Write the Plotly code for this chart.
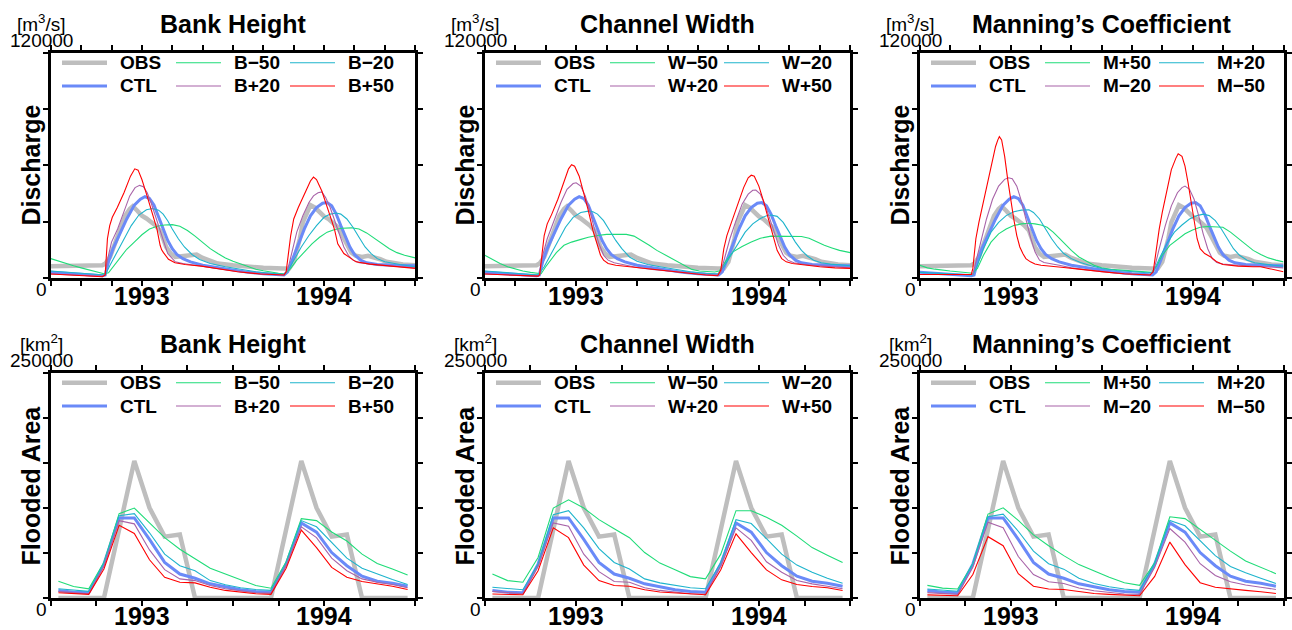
import plotly.graph_objects as go

# ======================= DATA =======================
# Top row: daily discharge [m3/s] read as (month since 1993-01-01, value) pairs
Q_OBS = [(0, 6300), (1, 6300), (2, 6500), (3.4, 6800), (3.6, 7700), (3.9, 11200), (4.1, 15600), (4.3, 20000),
         (4.6, 26100), (4.9, 33100), (5.2, 36700), (5.4, 38100), (5.7, 35800), (6.0, 33100), (6.3, 31700),
         (6.6, 30000), (6.9, 27900), (7.2, 25300), (7.4, 20900), (7.6, 16500), (7.9, 13000), (8.2, 11200),
         (8.6, 11600), (9.0, 12100), (9.3, 12600), (9.6, 12500), (10.0, 10700), (10.5, 8900), (11, 7700),
         (12, 6800), (13, 6000), (14, 5400), (15.3, 5100), (15.7, 5100), (16.0, 8600), (16.2, 13900),
         (16.4, 20900), (16.6, 29600), (16.9, 35800), (17.1, 38800), (17.4, 37500), (17.7, 34900),
         (18.0, 32800), (18.3, 31400), (18.6, 29300), (18.9, 27000), (19.2, 22600), (19.5, 17400),
         (19.8, 13500), (20.1, 11800), (20.5, 11200), (20.9, 11800), (21.3, 11200), (21.7, 10000),
         (22.1, 8600), (22.6, 7700), (23.2, 7200), (24, 6800)]
Q_CTL = [(0, 3000), (3.4, 1200), (3.58, 1600), (3.8, 8600), (4.1, 15600), (4.5, 22600), (5.0, 31400),
         (5.5, 38800), (5.9, 41900), (6.2, 43300), (6.5, 42300), (6.8, 38800), (7.1, 32300), (7.4, 26100),
         (7.7, 20000), (8.0, 15600), (8.3, 12500), (8.7, 10300), (9.2, 8600), (10, 6800), (11, 5400),
         (12, 4200), (13, 3000), (14, 2300), (15.36, 1600), (15.6, 3300), (15.9, 9500), (16.3, 18200),
         (16.7, 26100), (17.1, 33100), (17.5, 37500), (17.9, 39800), (18.2, 40200), (18.5, 38400),
         (18.8, 34000), (19.1, 27900), (19.4, 21700), (19.7, 16500), (20.0, 12500), (20.4, 9500),
         (20.8, 8100), (21.5, 7200), (22.5, 6800), (23.3, 6800), (24, 6500)]

Q_B_M50 = [(0, 10300), (0.5, 8900), (1, 7700), (1.5, 6500), (2, 5400), (2.5, 4400), (3, 3300), (3.5, 2300),
           (3.8, 2800), (4.2, 6800), (4.6, 11200), (5.0, 15300), (5.5, 19100), (6.0, 23000), (6.5, 26100),
           (7.0, 27500), (7.5, 28200), (8.0, 28400), (8.5, 27500), (9.0, 25300), (9.5, 22300), (10.0, 18800),
           (10.5, 15600), (11.0, 13000), (11.5, 10700), (12.0, 8900), (12.5, 7400), (13.0, 6000), (13.5, 4700),
           (14.0, 3900), (14.5, 3000), (15.0, 2500), (15.4, 2100), (15.8, 5100), (16.2, 9500), (16.7, 13900),
           (17.2, 18200), (17.7, 21700), (18.2, 24400), (18.7, 25800), (19.2, 26500), (19.8, 26700),
           (20.3, 26100), (20.8, 24000), (21.3, 21200), (21.8, 18200), (22.3, 15600), (22.8, 13500),
           (23.3, 12100), (24, 10700)]
Q_B_M20 = [(0, 3700), (3.4, 1600), (3.58, 1600), (3.9, 6800), (4.3, 13000), (4.8, 20900), (5.3, 27900),
           (5.8, 33500), (6.3, 36300), (6.7, 37000), (7.1, 36100), (7.4, 34000), (7.7, 30500), (8.0, 26100),
           (8.4, 20900), (8.8, 16500), (9.3, 12500), (9.8, 9800), (10.5, 7700), (11.5, 6000), (12.5, 4600),
           (13.5, 3300), (14.5, 2500), (15.36, 1900), (15.7, 5100), (16.0, 9500), (16.5, 16500), (17.0, 22600),
           (17.5, 27900), (18.0, 32300), (18.4, 34000), (18.8, 34600), (19.1, 34000), (19.5, 31400),
           (19.9, 27000), (20.3, 21700), (20.7, 16500), (21.1, 13000), (21.5, 10300), (22.0, 8600),
           (22.5, 7700), (23.0, 7200), (24, 6000)]
Q_B_P20 = [(0, 2100), (3.4, 1000), (3.58, 1600), (3.75, 10300), (4.0, 19100), (4.4, 26100), (4.8, 34900),
           (5.2, 43700), (5.55, 48100), (5.85, 49300), (6.1, 48600), (6.35, 45400), (6.6, 40200), (6.9, 32300),
           (7.2, 24400), (7.45, 19100), (7.7, 13000), (7.9, 11200), (8.2, 8600), (8.7, 7700), (9.5, 6800),
           (10.5, 5400), (11.5, 4200), (12.5, 3300), (14, 2100), (15.36, 1600), (15.6, 4200), (15.9, 13900),
           (16.2, 24400), (16.6, 33100), (17.0, 40200), (17.3, 43700), (17.6, 45400), (17.85, 45800),
           (18.1, 42800), (18.4, 37500), (18.7, 30500), (19.0, 22600), (19.3, 16500), (19.6, 12100),
           (19.9, 9500), (20.3, 8200), (21, 7500), (22, 6800), (23, 6000), (24, 5400)]
Q_B_P50 = [(0, 2100), (3.4, 700), (3.58, 1600), (3.73, 20900), (3.88, 27900), (4.05, 32300), (4.38, 37500),
           (4.82, 45400), (5.25, 54200), (5.53, 58100), (5.75, 57400), (6.0, 52400), (6.34, 43700),
           (6.66, 34900), (6.99, 26100), (7.2, 17400), (7.3, 15000), (7.42, 13500), (7.75, 10000),
           (8.18, 8100), (8.84, 7200), (9.92, 6300), (11.0, 5100), (12.3, 3300), (13.8, 2100), (15.36, 1600),
           (15.5, 3300), (15.8, 22600), (16.0, 31400), (16.3, 37500), (16.8, 46300), (17.1, 51600),
           (17.3, 53700), (17.5, 52400), (17.85, 46300), (18.2, 38400), (18.5, 30500), (18.7, 25300),
           (18.9, 18200), (19.3, 13000), (19.6, 11200), (20.1, 8600), (21.0, 7400), (22.1, 6500),
           (23.2, 5400), (24, 5100)]

Q_W_M50 = [(0, 12100), (0.5, 9800), (1, 7700), (1.5, 6000), (2, 4700), (2.5, 3700), (3, 3000), (3.5, 2500),
           (3.7, 2300), (4.0, 6000), (4.3, 9500), (4.7, 13500), (5.2, 17400), (5.7, 19100), (6.2, 20300),
           (6.8, 21700), (7.4, 22600), (8.0, 23200), (8.6, 23300), (9.3, 23200), (9.8, 22300), (10.3, 20000),
           (10.8, 17400), (11.3, 14700), (11.8, 12500), (12.3, 10300), (12.8, 7700), (13.2, 6000),
           (13.6, 4600), (14.1, 3700), (14.6, 3300), (15.1, 3200), (15.4, 3700), (15.8, 8600), (16.3, 13900),
           (16.9, 16800), (17.5, 19100), (18.1, 21200), (18.8, 22300), (19.5, 22300), (20.2, 22300),
           (20.8, 22100), (21.3, 21200), (21.8, 19100), (22.3, 17400), (22.8, 16000), (23.3, 14700),
           (24, 13500)]
Q_W_M20 = [(0, 3700), (3.5, 1600), (3.9, 6000), (4.3, 12100), (4.8, 20000), (5.3, 27000), (5.8, 32300),
           (6.3, 34900), (6.8, 35600), (7.1, 35300), (7.4, 34000), (7.8, 30500), (8.2, 25300), (8.6, 20000),
           (9.0, 15600), (9.5, 11200), (10.0, 8900), (10.7, 7200), (11.5, 6000), (12.5, 4600), (13.5, 3300),
           (14.5, 2500), (15.3, 2100), (15.7, 6000), (16.1, 11200), (16.6, 18200), (17.1, 24400),
           (17.6, 28800), (18.1, 31700), (18.5, 33100), (18.8, 33500), (19.2, 32800), (19.6, 29600),
           (20.0, 24400), (20.4, 19100), (20.8, 14700), (21.2, 11600), (21.6, 9500), (22.1, 8100),
           (22.7, 7400), (23.3, 6800), (24, 6500)]
Q_W_P20 = [(0, 2100), (3.5, 1000), (3.6, 1500), (3.8, 12100), (4.1, 20900), (4.5, 29600), (5.0, 40200),
           (5.4, 47200), (5.8, 50300), (6.0, 50700), (6.3, 48900), (6.6, 43700), (6.9, 35800), (7.2, 26100),
           (7.5, 18200), (7.8, 12100), (8.1, 9500), (8.5, 8100), (9.2, 6800), (10, 5600), (11, 4600),
           (12, 3700), (13, 2800), (14, 2100), (15.3, 1600), (15.5, 3000), (15.8, 12100), (16.1, 20900),
           (16.5, 30500), (16.9, 39300), (17.3, 44600), (17.6, 46700), (17.8, 46800), (18.1, 44600),
           (18.4, 39300), (18.7, 32300), (19.0, 24400), (19.3, 17400), (19.6, 12100), (19.9, 9500),
           (20.3, 8100), (21, 7200), (22, 6500), (23, 6000), (24, 5400)]
Q_W_P50 = [(0, 2100), (3.5, 1000), (3.6, 1600), (3.75, 13900), (3.9, 22600), (4.1, 28800), (4.4, 34000),
           (4.8, 41900), (5.2, 51600), (5.5, 58100), (5.7, 60300), (5.9, 59500), (6.2, 54200), (6.5, 45400),
           (6.8, 35800), (7.1, 25300), (7.4, 16500), (7.6, 12100), (7.8, 9500), (8.1, 7700), (8.6, 6800),
           (9.5, 6000), (10.5, 5100), (11.5, 3900), (12.5, 3000), (13.5, 2100), (14.5, 1600), (15.3, 1200),
           (15.5, 4200), (15.7, 15600), (15.9, 22600), (16.2, 29600), (16.6, 38400), (17.0, 48100),
           (17.3, 53300), (17.5, 54700), (17.7, 54200), (18.0, 48900), (18.3, 41000), (18.6, 32300),
           (18.9, 22600), (19.2, 14700), (19.5, 10300), (19.8, 8600), (20.2, 7700), (21, 6800), (22, 6000),
           (23, 5400), (24, 5100)]

Q_M_P50 = [(0, 6800), (0.5, 5400), (1, 4700), (1.5, 4000), (2, 3700), (2.5, 3300), (3, 3000), (3.5, 2500),
           (3.8, 5100), (4.2, 12100), (4.7, 19100), (5.2, 23500), (5.7, 26100), (6.2, 27900), (6.7, 28800),
           (7.2, 29100), (7.6, 28800), (8.0, 28200), (8.4, 27000), (8.8, 24400), (9.2, 21200), (9.6, 17700),
           (10.0, 14700), (10.5, 11200), (11.0, 8900), (11.5, 6800), (12.0, 5400), (12.6, 4600), (13.3, 4200),
           (14.0, 3700), (14.7, 3300), (15.3, 3000), (15.6, 6000), (16.0, 12100), (16.5, 17400),
           (17.0, 20500), (17.5, 23500), (18.0, 25600), (18.5, 27000), (19.0, 27400), (19.5, 27400),
           (20.0, 27000), (20.5, 24400), (21.0, 21200), (21.5, 17700), (22.0, 14700), (22.5, 12500),
           (23.0, 10700), (23.5, 9500), (24, 8600)]
Q_M_P20 = [(0, 3000), (3.5, 1600), (3.8, 6800), (4.2, 15600), (4.7, 24400), (5.2, 29600), (5.7, 33200),
           (6.2, 35300), (6.7, 36100), (7.2, 36300), (7.5, 34900), (7.9, 31400), (8.3, 26100), (8.7, 20900),
           (9.1, 16500), (9.5, 13000), (10.0, 10300), (10.6, 8200), (11.3, 6500), (12, 5100), (13, 4000),
           (14, 3300), (15, 2800), (15.4, 3000), (15.8, 10300), (16.3, 18200), (16.8, 24400), (17.3, 28200),
           (17.8, 31400), (18.3, 33200), (18.7, 34000), (19.1, 33200), (19.5, 30500), (19.9, 26100),
           (20.3, 20900), (20.7, 15600), (21.1, 12100), (21.6, 9500), (22.1, 8100), (22.7, 7400),
           (23.3, 6800), (24, 6300)]
Q_M_M20 = [(0, 1900), (3.5, 1900), (3.7, 8600), (4.0, 19100), (4.4, 31400), (4.8, 41900), (5.2, 48900),
           (5.6, 52500), (5.85, 53300), (6.1, 52800), (6.4, 48900), (6.7, 41000), (7.0, 31400), (7.3, 21700),
           (7.6, 13900), (7.9, 9500), (8.2, 8200), (8.6, 7700), (9.2, 6800), (10, 5400), (11, 4200),
           (12, 3300), (13, 2500), (14, 1900), (15.2, 1600), (15.45, 4200), (15.8, 15600), (16.2, 27900),
           (16.6, 38400), (17.0, 45400), (17.3, 48100), (17.5, 48900), (17.8, 47200), (18.1, 41900),
           (18.4, 33200), (18.7, 23500), (19.0, 15600), (19.3, 10300), (19.6, 8200), (20, 7400), (21, 6800),
           (22, 6300), (23, 6000), (24, 5400)]
Q_M_M50 = [(0, 1900), (3.0, 1600), (3.4, 1900), (3.5, 5100), (3.7, 20900), (3.9, 29600), (4.2, 40200),
           (4.5, 52500), (4.8, 63000), (5.0, 70000), (5.15, 73500), (5.25, 75200), (5.4, 73500), (5.6, 64700),
           (5.8, 52500), (6.0, 41000), (6.2, 31400), (6.4, 22600), (6.6, 16500), (6.8, 13000), (7.0, 10300),
           (7.3, 8600), (7.6, 7400), (8.0, 6800), (8.5, 6500), (9.0, 6000), (9.5, 5600), (10.5, 4700),
           (11.5, 3700), (12.5, 3000), (13.5, 2300), (14.5, 1800), (15.2, 1600), (15.4, 3300), (15.6, 15600),
           (15.8, 26100), (16.0, 34900), (16.3, 46300), (16.6, 57700), (16.9, 63800), (17.05, 66100),
           (17.3, 64700), (17.5, 59500), (17.7, 50700), (17.9, 40200), (18.1, 29600), (18.3, 20900),
           (18.5, 15600), (18.8, 13000), (19.2, 11200), (19.6, 8600), (20, 7200), (20.5, 6800), (21.0, 6300),
           (22, 6000), (22.5, 6000), (23, 5100), (23.5, 4200), (24, 3300)]

# Bottom row: monthly flooded area [km2], mid-month of Jan 1993 .. Dec 1994
FA_MONTHS = [0.5, 1.5, 2.5, 3.5, 4.5, 5.5, 6.5, 7.5, 8.5, 9.5, 10.5, 11.5,
             12.5, 13.5, 14.5, 15.5, 16.5, 17.5, 18.5, 19.5, 20.5, 21.5, 22.5, 23.5]
A_OBS = [0, 0, 0, 0, 76000, 152000, 100000, 68000, 70500, 0, 0, 0,
         0, 0, 0, 76000, 152000, 100000, 68000, 70500, 0, 0, 0, 0]
A_CTL = [8400, 6500, 5800, 37600, 88800, 88800, 65000, 39500, 26600, 21900, 15700, 12000,
         9100, 7300, 6500, 37600, 83300, 73000, 50400, 35800, 24100, 18600, 16400, 13100]
A_B_M50 = [18600, 12800, 10200, 39500, 93500, 99700, 83300, 66900, 54100, 43800, 32900, 26600,
           20400, 13900, 10900, 40200, 88000, 85800, 73100, 63200, 48600, 38300, 32100, 25500]
A_B_M20 = [10200, 8400, 7300, 38700, 91300, 93500, 72300, 48600, 35800, 30300, 19300, 14600,
           11300, 9500, 8400, 38700, 85800, 78900, 61400, 44200, 32900, 26600, 20400, 14900]
A_B_P20 = [7300, 5800, 4700, 35800, 85800, 82200, 53300, 31400, 21200, 19300, 13900, 10200,
           8000, 5800, 5400, 36500, 78900, 66900, 44200, 30300, 21200, 17500, 14900, 11300]
A_B_P50 = [5800, 4700, 4000, 32100, 80700, 71600, 42400, 23000, 17500, 16800, 12000, 8400,
           6600, 4700, 4000, 32900, 75300, 55900, 33900, 23000, 18300, 15700, 13100, 9500]
A_W_M50 = [26600, 19300, 17500, 44900, 99700, 108800, 99700, 86900, 76700, 66900, 50400, 38700,
           31400, 23700, 21200, 48600, 96800, 96800, 89500, 80700, 68600, 55900, 47500, 39400]
A_W_M20 = [12000, 10200, 9100, 37600, 92400, 96800, 77800, 54800, 39400, 32100, 21200, 16800,
           13900, 11300, 10200, 39400, 86900, 82600, 65800, 48600, 36500, 28500, 21900, 16400]
A_W_P20 = [7300, 5800, 4700, 35100, 83300, 79600, 48600, 29200, 18300, 17500, 11300, 8400,
           6600, 4700, 4400, 35800, 77800, 63900, 40200, 28500, 19300, 15700, 13100, 10200]
A_W_P50 = [4400, 4000, 3600, 30300, 77800, 66900, 36500, 19300, 13900, 13100, 9100, 6600,
           5400, 4000, 3600, 31400, 71200, 50400, 31100, 20100, 14900, 12800, 11300, 8400]
A_M_P50 = [14000, 11000, 10000, 38000, 93000, 100000, 86000, 70000, 58000, 47000, 37000, 30000,
           23000, 17000, 14000, 39000, 90000, 88000, 76000, 65000, 52000, 41000, 34000, 27000]
A_M_P20 = [10000, 8500, 7500, 38000, 90000, 93000, 74000, 52000, 38000, 32000, 22000, 16000,
           12500, 10000, 8500, 38000, 86000, 80000, 63000, 47000, 35000, 28000, 22000, 16000]
A_M_M20 = [6000, 4800, 4000, 34000, 84000, 78000, 46000, 26000, 18000, 16000, 11000, 8000,
           6000, 4500, 4000, 34000, 77000, 62000, 38000, 25000, 18000, 14500, 12000, 9500]
A_M_M50 = [3500, 3000, 2500, 26000, 68000, 58000, 27000, 13000, 10000, 9500, 7000, 5000,
           4000, 3000, 2500, 24000, 62000, 37000, 17000, 12000, 10000, 8500, 7000, 5000]

TITLES = ["Bank Height", "Channel Width", "Manning’s Coefficient"]
LABELS = [["B−50", "B−20", "B+20", "B+50"],
          ["W−50", "W−20", "W+20", "W+50"],
          ["M+50", "M+20", "M−20", "M−50"]]
Q_SERIES = [[Q_B_M50, Q_B_M20, Q_B_P20, Q_B_P50],
            [Q_W_M50, Q_W_M20, Q_W_P20, Q_W_P50],
            [Q_M_P50, Q_M_P20, Q_M_M20, Q_M_M50]]
A_SERIES = [[A_B_M50, A_B_M20, A_B_P20, A_B_P50],
            [A_W_M50, A_W_M20, A_W_P20, A_W_P50],
            [A_M_P50, A_M_P20, A_M_M20, A_M_M50]]
Q_MAX, A_MAX = 120000, 250000
YEAR_LABELS = [(6, "1993"), (18, "1994")]

# ======================= STYLE / LAYOUT =======================
W, H = 1292, 630
FONT = "Liberation Sans, Arial, sans-serif"
STY_OBS = dict(color="#bebebe", width=4.5)
STY_CTL = dict(color="#6a8af8", width=3)
STY_RUN = [dict(color="#1fdc78", width=1.1), dict(color="#1eb4cc", width=1.1),
           dict(color="#a863a8", width=1.1), dict(color="#ff0000", width=1.1)]

FRAME_L = [49.3, 483.3, 918.3]          # frame centre lines (px)
FRAME_R = [416.7, 851.7, 1285.0]
FRAME_T = [51.0, 371.0]
FRAME_B = [279.5, 599.5]
LW = 3


def px(x):
    return x / W


def py(y):
    return 1 - y / H


fig = go.Figure()
annotations, shapes = [], []

for r in range(2):
    for c in range(3):
        idx = r * 3 + c + 1
        xs = "x" if idx == 1 else f"x{idx}"
        ys = "y" if idx == 1 else f"y{idx}"
        xk = "xaxis" if idx == 1 else f"xaxis{idx}"
        yk = "yaxis" if idx == 1 else f"yaxis{idx}"

        if r == 0:
            obs_x = [p[0] for p in Q_OBS]; obs_y = [p[1] for p in Q_OBS]
            ctl_x = [p[0] for p in Q_CTL]; ctl_y = [p[1] for p in Q_CTL]
            runs = [([p[0] for p in s], [p[1] for p in s]) for s in Q_SERIES[c]]
            ymax, dtick, xstep = Q_MAX, 30000, 2
            unit, ytitle = "[m<sup>3</sup>/s]", "Discharge"
        else:
            obs_x, obs_y = FA_MONTHS, A_OBS
            ctl_x, ctl_y = FA_MONTHS, A_CTL
            runs = [(FA_MONTHS, s) for s in A_SERIES[c]]
            ymax, dtick, xstep = A_MAX, 50000, 3
            unit, ytitle = "[km<sup>2</sup>]", "Flooded Area"

        fig.add_trace(go.Scatter(x=obs_x, y=obs_y, mode="lines", line=STY_OBS,
                                 xaxis=xs, yaxis=ys, showlegend=False, name="OBS"))
        fig.add_trace(go.Scatter(x=ctl_x, y=ctl_y, mode="lines", line=STY_CTL,
                                 xaxis=xs, yaxis=ys, showlegend=False, name="CTL"))
        for k, (rx, ry) in enumerate(runs):
            fig.add_trace(go.Scatter(x=rx, y=ry, mode="lines", line=STY_RUN[k],
                                     xaxis=xs, yaxis=ys, showlegend=False, name=LABELS[c][k]))

        L, R, T, B = FRAME_L[c], FRAME_R[c], FRAME_T[r], FRAME_B[r]
        half = LW / 2
        fig.layout[xk] = dict(domain=[px(L + half), px(R - half)], range=[0, 24], anchor=ys,
                              showline=True, linewidth=LW, linecolor="black", mirror="ticks",
                              ticks="outside", ticklen=5, tickwidth=2, tickcolor="black",
                              tickmode="linear", tick0=0, dtick=xstep, showticklabels=False,
                              showgrid=False, zeroline=False, fixedrange=True)
        fig.layout[yk] = dict(domain=[py(B - half), py(T + half)], range=[0, ymax], anchor=xs,
                              showline=True, linewidth=LW, linecolor="black", mirror="ticks",
                              ticks="outside", ticklen=5, tickwidth=2, tickcolor="black",
                              dtick=dtick, tick0=0, showticklabels=False,
                              showgrid=False, zeroline=False, fixedrange=True)

        # year labels (centred on each year)
        for xv, lab in YEAR_LABELS:
            annotations.append(dict(x=xv, y=py(B + 16.5), xref=xs, yref="paper", text=f"<b>{lab}</b>",
                                    showarrow=False, xanchor="center", yanchor="middle",
                                    font=dict(size=25, color="black", family=FONT)))
        # titles & axis annotations
        annotations.append(dict(x=px((L + R) / 2), y=py(T - 27), xref="paper", yref="paper",
                                text=f"<b>{TITLES[c]}</b>", showarrow=False, xanchor="center", yanchor="middle",
                                font=dict(size=25, color="black", family=FONT)))
        annotations.append(dict(x=px(L - 8), y=py(T - 28), xref="paper", yref="paper", text=unit,
                                showarrow=False, xanchor="center", yanchor="middle",
                                font=dict(size=19, color="black", family=FONT)))
        annotations.append(dict(x=px(L - 8), y=py(T - 10.5), xref="paper", yref="paper", text=f"{ymax}",
                                showarrow=False, xanchor="center", yanchor="middle",
                                font=dict(size=19, color="black", family=FONT)))
        annotations.append(dict(x=px(L - 8), y=py(B + 10), xref="paper", yref="paper", text="0",
                                showarrow=False, xanchor="center", yanchor="middle",
                                font=dict(size=19, color="black", family=FONT)))
        annotations.append(dict(x=px(L - 18), y=py((T + B) / 2), xref="paper", yref="paper",
                                text=f"<b>{ytitle}</b>", textangle=-90, showarrow=False,
                                xanchor="center", yanchor="middle",
                                font=dict(size=25, color="black", family=FONT)))

        # legend (2 rows x 3 columns)
        entries = [[(STY_OBS, "OBS"), (STY_RUN[0], LABELS[c][0]), (STY_RUN[1], LABELS[c][1])],
                   [(STY_CTL, "CTL"), (STY_RUN[2], LABELS[c][2]), (STY_RUN[3], LABELS[c][3])]]
        for ri, row in enumerate(entries):
            yy = T + (11.7 if ri == 0 else 35.0)
            for ci, (sty, lab) in enumerate(row):
                x0 = L + 12.7 + 114 * ci
                shapes.append(dict(type="line", xref="paper", yref="paper",
                                   x0=px(x0), x1=px(x0 + 45), y0=py(yy), y1=py(yy),
                                   line=dict(color=sty["color"], width=sty["width"])))
                annotations.append(dict(x=px(x0 + 56), y=py(yy), xref="paper", yref="paper",
                                        text=f"<b>{lab}</b>", showarrow=False, xanchor="left",
                                        yanchor="middle", font=dict(size=19, color="black", family=FONT)))

fig.update_layout(width=W, height=H, margin=dict(l=0, r=0, t=0, b=0),
                  paper_bgcolor="white", plot_bgcolor="white",
                  annotations=annotations, shapes=shapes, showlegend=False,
                  font=dict(family=FONT, color="black"))
fig.write_html("out.html", config={"displayModeBar": False, "staticPlot": True},
               post_script="document.body.style.margin='0';document.body.style.overflow='hidden';")
